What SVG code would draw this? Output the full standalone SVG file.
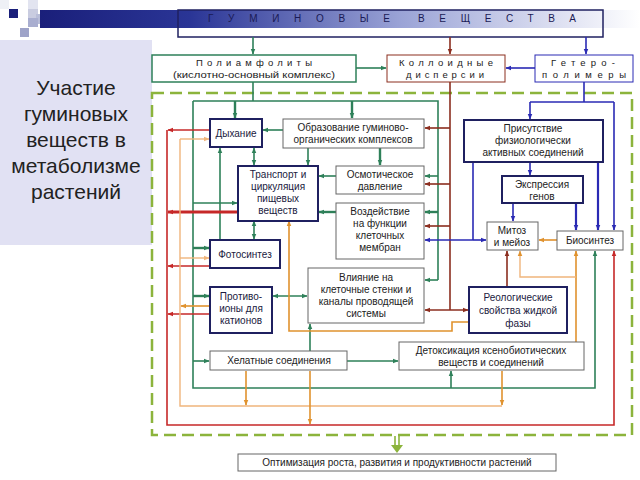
<svg xmlns="http://www.w3.org/2000/svg" width="640" height="480" viewBox="0 0 640 480">
<defs>
<linearGradient id="hdr" x1="0" y1="0" x2="1" y2="0">
<stop offset="0" stop-color="#1a1f7a"/>
<stop offset="0.25" stop-color="#2a3596"/>
<stop offset="0.6" stop-color="#9aa3d6"/>
<stop offset="0.9" stop-color="#e6e8f5"/>
<stop offset="1" stop-color="#ffffff"/>
</linearGradient>
<marker id="ag" viewBox="0 0 10 10" refX="9" refY="5" markerWidth="6" markerHeight="6" orient="auto-start-reverse" markerUnits="userSpaceOnUse"><path d="M0,1L10,5L0,9z" fill="#2e8059"/></marker>
<marker id="ab" viewBox="0 0 10 10" refX="9" refY="5" markerWidth="6" markerHeight="6" orient="auto-start-reverse" markerUnits="userSpaceOnUse"><path d="M0,1L10,5L0,9z" fill="#8b2e1f"/></marker>
<marker id="ar" viewBox="0 0 10 10" refX="9" refY="5" markerWidth="6" markerHeight="6" orient="auto-start-reverse" markerUnits="userSpaceOnUse"><path d="M0,1L10,5L0,9z" fill="#c62828"/></marker>
<marker id="au" viewBox="0 0 10 10" refX="9" refY="5" markerWidth="6" markerHeight="6" orient="auto-start-reverse" markerUnits="userSpaceOnUse"><path d="M0,1L10,5L0,9z" fill="#2a2ab4"/></marker>
<marker id="ao" viewBox="0 0 10 10" refX="9" refY="5" markerWidth="6" markerHeight="6" orient="auto-start-reverse" markerUnits="userSpaceOnUse"><path d="M0,1L10,5L0,9z" fill="#e0922e"/></marker>
<marker id="at" viewBox="0 0 10 10" refX="9" refY="5" markerWidth="6" markerHeight="6" orient="auto-start-reverse" markerUnits="userSpaceOnUse"><path d="M0,1L10,5L0,9z" fill="#f0b57c"/></marker>
</defs>
<style>
text{font-family:"Liberation Sans",Arial,sans-serif;font-size:10px;fill:#222;text-anchor:middle}
.big{font-size:21px;fill:#222}
.sm{font-size:9.5px}
.hd{font-size:10px;fill:#1a1a55;text-anchor:start}
.nv{fill:#1a1a40}
.thick{fill:#fff;stroke:#1f2060;stroke-width:2}
.thin{fill:#fff;stroke:#666;stroke-width:1}
.g{fill:none;stroke:#2e8059;stroke-width:1.6}
.gt{fill:none;stroke:#2e8059;stroke-width:2.4}
.b{fill:none;stroke:#8b2e1f;stroke-width:1.6}
.r{fill:none;stroke:#c62828;stroke-width:1.6}
.rt{fill:none;stroke:#c62828;stroke-width:2.8}
.u{fill:none;stroke:#2a2ab4;stroke-width:1.6}
.ut{fill:none;stroke:#2a2ab4;stroke-width:2.2}
.o{fill:none;stroke:#e0922e;stroke-width:1.6}
.t{fill:none;stroke:#f0b57c;stroke-width:1.4}
.mg{marker-end:url(#ag)}
.mb{marker-end:url(#ab)}
.mr{marker-end:url(#ar)}
.mu{marker-end:url(#au)}
.mo{marker-end:url(#ao)}
.mt{marker-end:url(#at)}
</style>
<rect width="640" height="480" fill="#fff"/>
<g id="deco">
<rect x="9" y="9" width="9" height="9" fill="#1a1f7a"/>
<rect x="28" y="0" width="10" height="9" fill="#e2e4f0"/>
<rect x="28" y="9" width="10" height="9" fill="#c9cce0"/>
<rect x="36" y="14" width="10" height="10" fill="#b8bdd8"/>
<rect x="28" y="18" width="10" height="9" fill="#a9aed0"/>
<rect x="20" y="28" width="9" height="9" fill="#9ea3c8"/>
<rect x="0" y="0" width="9" height="9" fill="#eef0f6"/>
</g>
<rect x="40" y="10" width="600" height="18" fill="url(#hdr)"/>
<g id="panel">
<rect x="0" y="40" width="152" height="205" fill="#e1e1f3"/>
<text class="big" x="76" y="95">Участие</text>
<text class="big" x="76" y="121">гуминовых</text>
<text class="big" x="76" y="147">веществ в</text>
<text class="big" x="76" y="173">метаболизме</text>
<text class="big" x="76" y="199">растений</text>
</g>
<g id="n-header">
<rect x="178" y="10" width="425" height="27" fill="none" stroke="#1f2060" stroke-width="1.5"/>
<text class="hd" x="208" y="22" textLength="182" lengthAdjust="spacing">ГУМИНОВЫЕ</text>
<text class="hd" x="418" y="22" textLength="158" lengthAdjust="spacing">ВЕЩЕСТВА</text>
</g>
<g id="n-poly"><rect x="152" y="55" width="204" height="27" fill="#fff" stroke="#2e8059" stroke-width="1.5"/>
<text class="sm" x="196" y="66" style="text-anchor:start" textLength="116" lengthAdjust="spacing">Полиамфолиты</text>
<text class="sm" x="173" y="78" style="text-anchor:start" textLength="162" lengthAdjust="spacingAndGlyphs">(кислотно-основный комплекс)</text></g>
<g id="n-coll"><rect x="387" y="55" width="118" height="27" fill="#fff" stroke="#8b2e1f" stroke-width="1"/>
<text class="sm" x="399" y="66" style="text-anchor:start" textLength="94" lengthAdjust="spacing">Коллоидные</text>
<text class="sm" x="406" y="78" style="text-anchor:start" textLength="78" lengthAdjust="spacing">дисперсии</text></g>
<g id="n-het"><rect x="535" y="55" width="98" height="27" fill="#fff" stroke="#2a2ab4" stroke-width="1"/>
<text class="sm" x="551" y="66" style="text-anchor:start" textLength="64" lengthAdjust="spacing">Гетеро-</text>
<text class="sm" x="542" y="78" style="text-anchor:start" textLength="84" lengthAdjust="spacing">полимеры</text></g>
<rect id="frame" x="152" y="93" width="480" height="342" fill="none" stroke="#8cb43c" stroke-width="2.5" stroke-dasharray="12 6"/>
<g id="connectors">
<path class="g mg" d="M253,37V54"/>
<path class="b mb" d="M450,37V54"/>
<path class="u mu" d="M586,37V54"/>
<path class="g mg" d="M356,68H386"/>
<path class="u mu" d="M535,68H506"/>
<path class="g" d="M253,82V101"/>
<path class="g" d="M193,101H438V280"/>
<path class="g mg" d="M193,101V388H595V251"/>
<path class="gt mg" d="M235,101V118"/>
<path class="gt mg" d="M352,101V118"/>
<path class="g mg" d="M438,176H425"/>
<path class="gt mg" d="M438,212H425"/>
<path class="g mg" d="M438,280H425"/>
<path class="g mg" d="M193,203H237"/>
<path class="gt mg" d="M193,248H209"/>
<path class="gt mg" d="M193,296H209"/>
<path class="g mg" d="M193,361H209"/>
<path class="g mg" d="M283,130H263"/>
<path class="g mg" d="M308,148V165"/>
<path class="gt mg" d="M380,148V165"/>
<path class="g mg" d="M336,176H319"/>
<path class="gt mg" d="M336,212H319"/>
<path class="g mg" d="M254,148V165" style="marker-start:url(#ag)"/>
<path class="g mg" d="M254,221V239" style="marker-start:url(#ag)"/>
<path class="g mg" d="M220,240V148"/>
<path class="g mg" d="M273,296H307" style="marker-start:url(#ag)"/>
<path class="g mg" d="M347,361H398"/>
<path class="g mg" d="M310,351V324"/>
<path class="g mg" d="M451,388V371"/>
<path class="b" d="M450,82V310"/>
<path class="b mb" d="M450,128H425"/>
<path class="b mb" d="M450,184H425"/>
<path class="b mb" d="M450,226H425"/>
<path class="b mb" d="M425,310H468" style="marker-start:url(#ab)"/>
<path class="b mb" d="M507,287V251"/>
<path class="u" d="M584,82V102"/>
<path class="u" d="M530,102H614"/>
<path class="u mu" d="M530,102V119"/>
<path class="u mu" d="M614,102V230"/>
<path class="u mu" d="M530,162V175"/>
<path class="ut mu" d="M598,162V230"/>
<path class="u mu" d="M513,203V221"/>
<path class="ut mu" d="M576,203V230"/>
<path class="u" d="M473,162V240"/>
<path class="u mu" d="M473,240H425"/>
<path class="u mu" d="M473,240H486"/>
<path class="r mr" d="M167,130V425H614V251"/>
<path class="r mr" d="M210,130H168"/>
<path class="rt mr" d="M238,212H168"/>
<path class="r mr" d="M210,266H168"/>
<path class="r mr" d="M210,314H168"/>
<path class="t" d="M180,139V406H502"/>
<path class="t mt" d="M180,139H209"/>
<path class="t mt" d="M180,258H209"/>
<path class="o mo" d="M210,306H181"/>
<path class="o mo" d="M246,371V405"/>
<path class="o mo" d="M502,371V405"/>
<path class="o mo" d="M310,371V424"/>
<path class="o mo" d="M469,322H452V331H289V221"/>
<path class="o mo" d="M557,240H539"/>
<path class="o mo" d="M576,342V251"/>
<path class="t mo" d="M576,277H520V251"/>
<path d="M395,436V446M399,436V446" stroke="#8cb43c" stroke-width="1.6" fill="none"/>
<path d="M391,445H403L397,453z" fill="#8cb43c"/>
</g>
<g id="n-dyh"><rect class="thick" x="210" y="119" width="52" height="28"/><text class="nv" x="236" y="137">Дыхание</text></g>
<g id="n-obr"><rect class="thin" x="283" y="119" width="141" height="29"/><text x="353" y="131">Образование гуминово-</text><text x="353" y="143">органических комплексов</text></g>
<g id="n-tr"><rect class="thick" x="238" y="166" width="80" height="55"/><text class="nv" x="278" y="178">Транспорт и</text><text class="nv" x="278" y="190">циркуляция</text><text class="nv" x="278" y="202">пищевых</text><text class="nv" x="278" y="214">веществ</text></g>
<g id="n-osm"><rect class="thin" x="336" y="166" width="88" height="28"/><text x="380" y="178">Осмотическое</text><text x="380" y="190">давление</text></g>
<g id="n-voz"><rect class="thin" x="336" y="203" width="88" height="56"/><text x="380" y="215">Воздействие</text><text x="380" y="227">на функции</text><text x="380" y="239">клеточных</text><text x="380" y="251">мембран</text></g>
<g id="n-vl"><rect class="thin" x="308" y="268" width="116" height="55"/><text x="366" y="281">Влияние на</text><text x="366" y="293">клеточные стенки и</text><text x="366" y="305">каналы проводящей</text><text x="366" y="317">системы</text></g>
<g id="n-foto"><rect class="thick" x="210" y="240" width="70" height="28"/><text class="nv" x="245" y="258">Фотосинтез</text></g>
<g id="n-prot"><rect class="thick" x="210" y="287" width="62" height="46"/><text class="nv" x="241" y="300">Противо-</text><text class="nv" x="241" y="312">ионы для</text><text class="nv" x="241" y="324">катионов</text></g>
<g id="n-hel"><rect class="thin" x="210" y="351" width="137" height="19"/><text x="279" y="364">Хелатные соединения</text></g>
<g id="n-det"><rect class="thin" x="399" y="342" width="185" height="28"/><text x="491" y="354">Детоксикация ксенобиотических</text><text x="491" y="366">веществ и соединений</text></g>
<g id="n-pris"><rect class="thick" x="464" y="120" width="139" height="42"/><text x="533" y="132">Присутствие</text><text x="533" y="144">физиологически</text><text x="533" y="156">активных соединений</text></g>
<g id="n-eks"><rect class="thick" x="502" y="176" width="81" height="27"/><text x="542" y="188">Экспрессия</text><text x="542" y="200">генов</text></g>
<g id="n-mit"><rect class="thin" x="487" y="222" width="51" height="28"/><text x="512" y="234">Митоз</text><text x="512" y="246">и мейоз</text></g>
<g id="n-bio"><rect class="thin" x="557" y="231" width="66" height="19"/><text x="590" y="244">Биосинтез</text></g>
<g id="n-reo"><rect class="thick" x="469" y="287" width="98" height="46"/><text class="nv" x="518" y="301">Реологические</text><text class="nv" x="518" y="314">свойства жидкой</text><text class="nv" x="518" y="327">фазы</text></g>
<g id="n-opt"><rect class="thin" x="238" y="454" width="318" height="17"/><text x="397" y="466">Оптимизация роста, развития и продуктивности растений</text></g>
</svg>
